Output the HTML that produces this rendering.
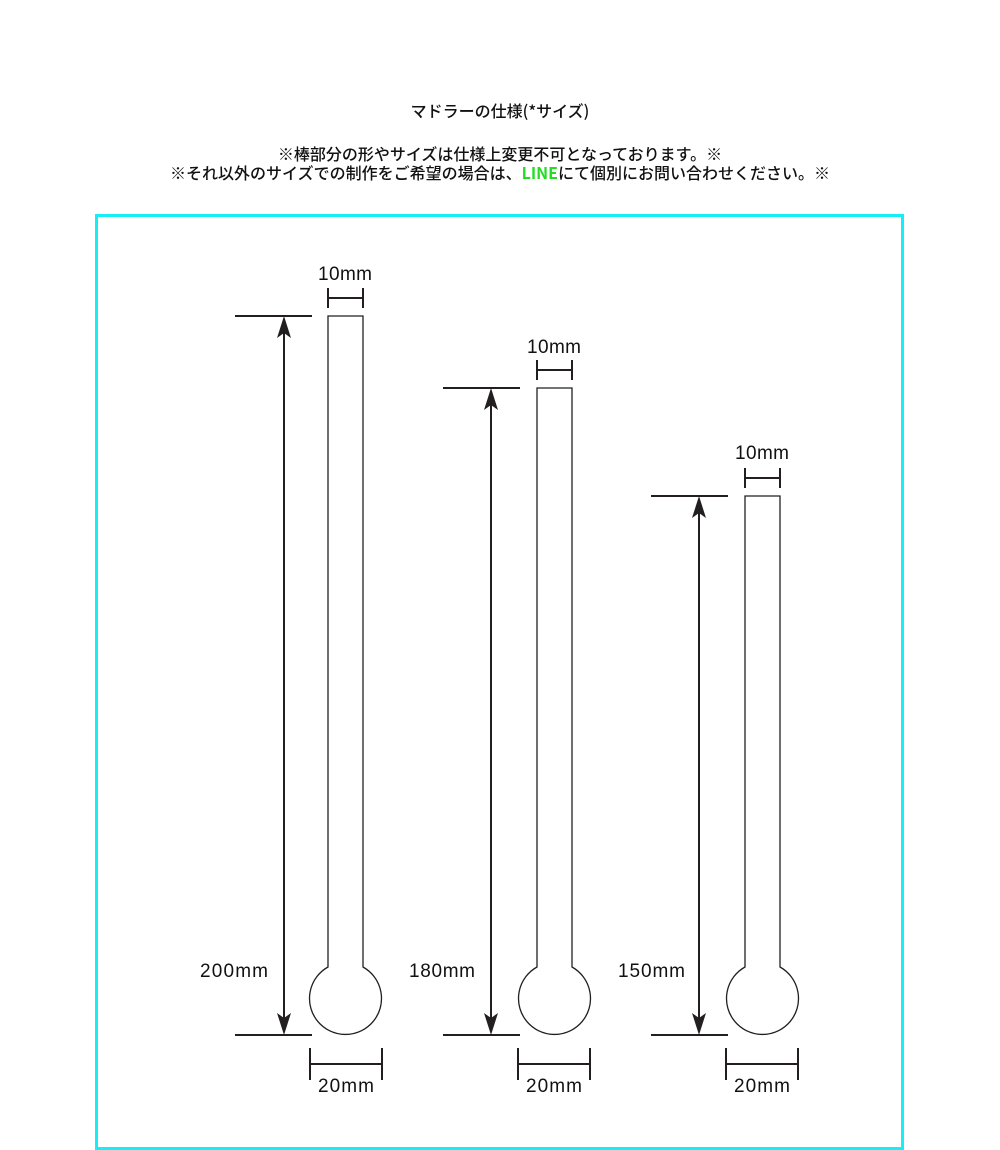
<!DOCTYPE html>
<html><head><meta charset="utf-8"><style>
html,body{margin:0;padding:0;background:#fff;}
body{width:1000px;height:1145px;position:relative;overflow:hidden;font-family:"Liberation Sans","Noto Sans CJK JP",sans-serif;}
.t{position:absolute;left:0;width:1000px;text-align:center;font-size:16px;color:#111;font-family:"Noto Sans CJK JP",sans-serif;line-height:20px;font-weight:500;}
.box{position:absolute;left:95px;top:214px;width:803px;height:930px;border:3px solid #16eef5;}
</style></head><body>
<div class="t" style="top:100px">マドラーの仕様(*サイズ)</div>
<div class="t" style="top:143px">※棒部分の形やサイズは仕様上変更不可となっております。※</div>
<div class="t" style="top:162px">※それ以外のサイズでの制作をご希望の場合は、<span style="color:#22dd22;font-weight:bold">LINE</span>にて個別にお問い合わせください。※</div>
<div class="box"></div>
<svg width="1000" height="1145" style="position:absolute;left:0;top:0" font-family="Liberation Sans, sans-serif" font-size="19" fill="#111">
<defs>
<g id="arrUp"><polygon points="0,0 -7,22 0,17 7,22" fill="#231f20"/></g>
</defs>
<g stroke="#231f20" fill="none" stroke-width="1.3">
<g>
<line x1="235" y1="316" x2="312" y2="316" stroke-width="2"/>
<line x1="235" y1="1035" x2="312" y2="1035" stroke-width="2"/>
<line x1="284" y1="330" x2="284" y2="1022" stroke-width="2"/>
<path d="M328,316 H363 V967 A36,36 0 1 1 328,967 Z"/>
<line x1="328" y1="298" x2="363" y2="298" stroke-width="2"/>
<line x1="328" y1="288" x2="328" y2="308" stroke-width="2"/>
<line x1="363" y1="288" x2="363" y2="308" stroke-width="2"/>
<line x1="310" y1="1064" x2="382" y2="1064" stroke-width="2"/>
<line x1="310" y1="1048" x2="310" y2="1080" stroke-width="2"/>
<line x1="382" y1="1048" x2="382" y2="1080" stroke-width="2"/>
</g>
<g transform="translate(208,0)">
<line x1="235" y1="388" x2="312" y2="388" stroke-width="2"/>
<line x1="235" y1="1035" x2="312" y2="1035" stroke-width="2"/>
<line x1="283" y1="402" x2="283" y2="1022" stroke-width="2"/>
<path d="M329,388 H364 V967 A36,36 0 1 1 329,967 Z"/>
<line x1="329" y1="370" x2="364" y2="370" stroke-width="2"/>
<line x1="329" y1="360" x2="329" y2="380" stroke-width="2"/>
<line x1="364" y1="360" x2="364" y2="380" stroke-width="2"/>
<line x1="310" y1="1064" x2="382" y2="1064" stroke-width="2"/>
<line x1="310" y1="1048" x2="310" y2="1080" stroke-width="2"/>
<line x1="382" y1="1048" x2="382" y2="1080" stroke-width="2"/>
</g>
<g transform="translate(416,0)">
<line x1="235" y1="496" x2="312" y2="496" stroke-width="2"/>
<line x1="235" y1="1035" x2="312" y2="1035" stroke-width="2"/>
<line x1="283" y1="510" x2="283" y2="1022" stroke-width="2"/>
<path d="M329,496 H364 V967 A36,36 0 1 1 329,967 Z"/>
<line x1="329" y1="478" x2="364" y2="478" stroke-width="2"/>
<line x1="329" y1="468" x2="329" y2="488" stroke-width="2"/>
<line x1="364" y1="468" x2="364" y2="488" stroke-width="2"/>
<line x1="310" y1="1064" x2="382" y2="1064" stroke-width="2"/>
<line x1="310" y1="1048" x2="310" y2="1080" stroke-width="2"/>
<line x1="382" y1="1048" x2="382" y2="1080" stroke-width="2"/>
</g>
</g>
<use href="#arrUp" transform="translate(284,316)"/>
<use href="#arrUp" transform="translate(284,1035) scale(1,-1)"/>
<use href="#arrUp" transform="translate(491,388)"/>
<use href="#arrUp" transform="translate(491,1035) scale(1,-1)"/>
<use href="#arrUp" transform="translate(699,496)"/>
<use href="#arrUp" transform="translate(699,1035) scale(1,-1)"/>
<text x="345" y="280" text-anchor="middle" textLength="54">10mm</text>
<text x="554" y="353" text-anchor="middle" textLength="54">10mm</text>
<text x="762" y="459" text-anchor="middle" textLength="54">10mm</text>
<text x="346" y="1092" text-anchor="middle" textLength="56">20mm</text>
<text x="554" y="1092" text-anchor="middle" textLength="56">20mm</text>
<text x="762" y="1092" text-anchor="middle" textLength="56">20mm</text>
<text x="200" y="977" textLength="68">200mm</text>
<text x="409" y="977" textLength="66">180mm</text>
<text x="618" y="977" textLength="67">150mm</text>
</svg>
</body></html>
